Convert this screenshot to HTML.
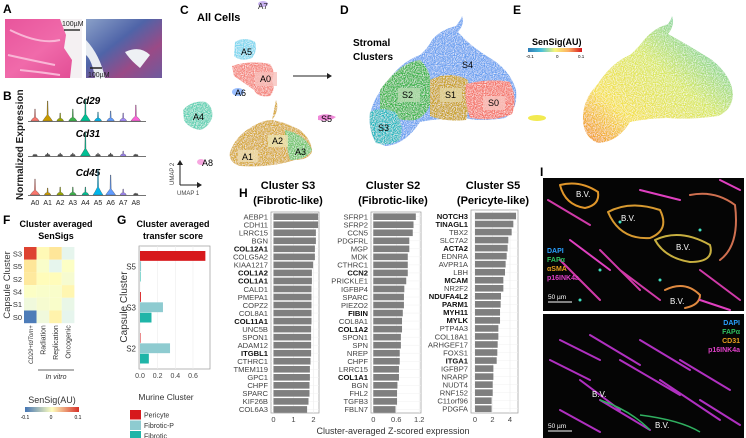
<!DOCTYPE html>
<html><head><meta charset="utf-8"><style>
html,body{margin:0;padding:0;background:#fff;}
svg{display:block;font-family:"Liberation Sans",Arial,sans-serif;}
</style></head><body>
<svg id="fig" width="746" height="438" viewBox="0 0 746 438" xmlns="http://www.w3.org/2000/svg">
<defs>
<linearGradient id="he" x1="0" y1="0" x2="1" y2="1"><stop offset="0" stop-color="#e8559c"/><stop offset="0.5" stop-color="#f06aaa"/><stop offset="1" stop-color="#e04a92"/></linearGradient>
<linearGradient id="tri" x1="0" y1="0" x2="1" y2="1"><stop offset="0" stop-color="#8aa0c8"/><stop offset="0.4" stop-color="#4f64a8"/><stop offset="0.7" stop-color="#9a4a86"/><stop offset="1" stop-color="#6d5b9e"/></linearGradient>
<linearGradient id="ss" x1="0" x2="1"><stop offset="0" stop-color="#2c7bb6"/><stop offset="0.25" stop-color="#4cc1d8"/><stop offset="0.5" stop-color="#f6f67a"/><stop offset="0.75" stop-color="#fdae61"/><stop offset="1" stop-color="#d7191c"/></linearGradient>
<linearGradient id="ssF" x1="0" x2="1"><stop offset="0" stop-color="#4575b4"/><stop offset="0.5" stop-color="#ffffbf"/><stop offset="1" stop-color="#d73027"/></linearGradient>
<linearGradient id="eblob" x1="0" y1="1" x2="1" y2="0"><stop offset="0" stop-color="#f08c1c"/><stop offset="0.25" stop-color="#f5e04a"/><stop offset="0.55" stop-color="#d8e860"/><stop offset="0.8" stop-color="#7fd39a"/><stop offset="1" stop-color="#5ec0b0"/></linearGradient>
<filter id="speck"><feTurbulence type="fractalNoise" baseFrequency="0.9" numOctaves="1" result="n"/><feColorMatrix in="n" type="matrix" values="0 0 0 0 1 0 0 0 0 1 0 0 0 0 1 0 0 0 -2.2 1.3" result="w"/><feComposite in="w" in2="SourceGraphic" operator="in" result="wm"/><feMerge><feMergeNode in="SourceGraphic"/><feMergeNode in="wm"/></feMerge></filter>
</defs>

<!-- Panel A -->
<g>
<text x="3" y="13" font-size="12" font-weight="bold">A</text>
<rect x="5" y="19" width="77" height="59" fill="url(#he)"/>
<path d="M60 19 L82 19 L82 78 L70 78 L72 60 L64 48 L66 35 Z" fill="#f4f0f2"/>
<path d="M10 30 Q40 45 60 40 M8 55 Q30 60 55 65 M20 70 Q40 72 60 75" stroke="#f9b6d6" stroke-width="2" fill="none"/>
<line x1="64" y1="30" x2="80" y2="30" stroke="#333" stroke-width="1.5"/>
<text x="62" y="26" font-size="7" fill="#222">100µM</text>
<rect x="86" y="19" width="76" height="59" fill="url(#tri)"/>
<path d="M86 40 Q100 55 105 78 L95 78 Q92 60 86 55 Z" fill="#e8ecf2"/>
<path d="M125 52 Q140 45 150 55 L140 68 Q130 60 125 52 Z" fill="#eef0f4"/>
<line x1="90" y1="68" x2="102" y2="68" stroke="#222" stroke-width="1.5"/>
<text x="88" y="77" font-size="7" fill="#222">100µM</text>
</g>

<!-- Panel B -->
<g>
<text x="3" y="100" font-size="12" font-weight="bold">B</text>
<text transform="translate(23,200) rotate(-90)" font-size="10" font-weight="bold" fill="#222">Normalized Expression</text>
<g id="violins"></g>
</g>

<!-- Panel C -->
<g>
<text x="180" y="14" font-size="12" font-weight="bold">C</text>
<text x="197" y="21" font-size="11" font-weight="bold">All Cells</text>
<ellipse cx="263" cy="4" rx="5" ry="3" fill="#c9b3f0"/>
<text x="258" y="9" font-size="8" fill="#222">A7</text>
<path d="M235 42 Q245 36 255 42 Q258 50 252 58 Q240 62 234 56 Z" fill="#7fd7ef" filter="url(#speck)"/>
<text x="241" y="55" font-size="9">A5</text>
<path d="M232 66 Q250 60 270 64 Q276 72 272 80 Q276 90 270 96 Q258 98 254 90 Q240 80 234 76 Z" fill="#f4847c" filter="url(#speck)"/>
<rect x="255" y="72" width="22" height="14" fill="#f8c0bb" opacity="0.8"/>
<text x="260" y="82" font-size="9">A0</text>
<ellipse cx="238" cy="92" rx="6" ry="4" fill="#9cc0ff"/>
<text x="235" y="96" font-size="9">A6</text>
<path d="M183 110 Q192 100 206 102 Q214 108 212 118 Q208 128 200 130 Q188 128 184 120 Z" fill="#5fd1b4" filter="url(#speck)"/>
<text x="193" y="120" font-size="9">A4</text>
<ellipse cx="201" cy="162" rx="4" ry="3" fill="#f7a7e0"/>
<text x="202" y="166" font-size="9">A8</text>
<path d="M276 100 Q280 110 272 120 Q285 122 300 130 Q312 140 312 152 Q308 160 295 160 Q270 168 240 166 Q228 162 230 152 Q236 136 250 128 Q262 120 272 120" fill="#d6a838" filter="url(#speck)"/>
<path d="M285 130 Q305 134 312 150 Q306 160 290 160 Q286 145 285 130 Z" fill="#6fc46a" filter="url(#speck)"/>
<rect x="268" y="135" width="20" height="12" fill="#ece4b0" opacity="0.8"/>
<text x="272" y="144" font-size="9">A2</text>
<text x="295" y="155" font-size="9">A3</text>
<rect x="238" y="150" width="20" height="12" fill="#eedcb0" opacity="0.8"/>
<text x="242" y="160" font-size="9">A1</text>
<path d="M318 116 Q326 112 336 117 Q330 122 318 120 Z" fill="#f08ad9"/>
<text x="321" y="122" font-size="9">S5</text>
<line x1="293" y1="76" x2="327" y2="76" stroke="#222" stroke-width="1"/>
<path d="M327 73 L332 76 L327 79 Z" fill="#222"/>
<line x1="180" y1="185" x2="180" y2="164" stroke="#222"/><path d="M177 165 L180 160 L183 165 Z" fill="#222"/>
<line x1="180" y1="185" x2="198" y2="185" stroke="#222"/><path d="M197 182 L202 185 L197 188 Z" fill="#222"/>
<text transform="translate(174,185) rotate(-90)" font-size="6" fill="#444">UMAP 2</text>
<text x="177" y="195" font-size="6" fill="#444">UMAP 1</text>
</g>

<!-- Panel D -->
<g>
<text x="340" y="14" font-size="12" font-weight="bold">D</text>
<text x="353" y="46" font-size="10" font-weight="bold">Stromal</text>
<text x="353" y="60" font-size="10" font-weight="bold">Clusters</text>
<path d="M432 40 Q440 30 456 26 Q462 18 462 16 Q465 24 458 32 Q470 46 490 58 Q510 70 516 90 Q518 110 505 118 Q480 122 465 118 Q440 118 420 122 Q405 145 385 146 Q372 140 370 125 Q368 105 385 85 Q400 62 420 55 Q428 48 432 40 Z" fill="#6aa0f0" filter="url(#speck)"/>
<path d="M380 90 Q400 62 420 60 Q432 70 432 95 Q430 115 415 120 Q395 122 380 110 Z" fill="#3cb44b" filter="url(#speck)"/>
<path d="M430 80 Q450 70 468 80 Q472 100 466 120 Q445 122 430 116 Z" fill="#c8a020" filter="url(#speck)"/>
<path d="M466 84 Q490 78 510 82 Q518 100 512 114 Q495 122 470 118 Q464 100 466 84 Z" fill="#f4756b" filter="url(#speck)"/>
<path d="M370 112 Q380 106 395 112 Q405 125 400 140 Q388 147 376 143 Q368 130 370 112 Z" fill="#22b8c0" filter="url(#speck)"/>
<rect x="398" y="88" width="22" height="14" fill="#b8dcb0" opacity="0.8"/><text x="402" y="98" font-size="9">S2</text>
<rect x="440" y="88" width="22" height="14" fill="#e2d4a0" opacity="0.8"/><text x="445" y="98" font-size="9">S1</text>
<rect x="483" y="96" width="22" height="14" fill="#f9c4be" opacity="0.8"/><text x="488" y="106" font-size="9">S0</text>
<text x="462" y="68" font-size="9">S4</text>
<text x="378" y="131" font-size="9">S3</text>
</g>

<!-- Panel E -->
<g>
<text x="513" y="14" font-size="12" font-weight="bold">E</text>
<text x="532" y="45" font-size="9" font-weight="bold">SenSig(AU)</text>
<rect x="528" y="48" width="54" height="4" fill="url(#ss)"/>
<text x="526" y="58" font-size="4.5">-0.1</text><text x="556" y="58" font-size="4.5">0</text><text x="578" y="58" font-size="4.5">0.1</text>
<ellipse cx="537" cy="118" rx="9" ry="3" fill="#f2ea50"/>
<path d="M644 40 Q654 28 668 24 Q672 18 672 16 Q675 26 668 34 Q690 46 712 60 Q732 76 733 95 Q732 110 718 116 Q690 120 668 118 Q650 118 630 122 Q618 142 598 143 Q585 138 583 122 Q582 100 597 85 Q612 62 630 55 Q638 48 644 40 Z" fill="url(#eblob)" filter="url(#speck)"/>
</g>

<!-- Panel F -->
<g>
<text x="3" y="224" font-size="12" font-weight="bold">F</text>
<text x="56" y="227" font-size="9" font-weight="bold" text-anchor="middle">Cluster averaged</text>
<text x="56" y="239" font-size="9" font-weight="bold" text-anchor="middle">SenSigs</text>
<text transform="translate(10,285) rotate(-90)" font-size="9.5" text-anchor="middle" fill="#333">Capsule Cluster</text>
<g id="heat"></g>
<line x1="38" y1="370" x2="74" y2="370" stroke="#333" stroke-width="0.7"/>
<text x="56" y="379" font-size="7" font-style="italic" text-anchor="middle" fill="#333">In vitro</text>
<text x="52" y="403" font-size="9" text-anchor="middle" fill="#333">SenSig(AU)</text>
<rect x="25" y="407" width="54" height="5" fill="url(#ssF)"/>
<text x="25" y="419" font-size="5" text-anchor="middle">-0.1</text><text x="51" y="419" font-size="5" text-anchor="middle">0</text><text x="78" y="419" font-size="5" text-anchor="middle">0.1</text>
</g>

<!-- Panel G -->
<g>
<text x="117" y="224" font-size="12" font-weight="bold">G</text>
<text x="173" y="227" font-size="9" font-weight="bold" text-anchor="middle">Cluster averaged</text>
<text x="173" y="239" font-size="9" font-weight="bold" text-anchor="middle">transfer score</text>
<text transform="translate(127,307) rotate(-90)" font-size="10" text-anchor="middle" fill="#333">Capsule Cluster</text>
<g id="gchart"></g>
<text x="166" y="400" font-size="8.5" text-anchor="middle" fill="#333">Murine Cluster</text>
<g id="glegend"></g>
</g>

<!-- Panel H -->
<g>
<text x="239" y="197" font-size="12" font-weight="bold">H</text>
<g id="hchart"></g>
<text x="393" y="434" font-size="9" text-anchor="middle" fill="#333">Cluster-averaged Z-scored expression</text>
</g>

<!-- Panel I -->
<g>
<text x="540" y="176" font-size="12" font-weight="bold">I</text>
<rect x="543" y="178" width="201" height="133" fill="#050505"/>
<g fill="none" stroke-width="2" stroke-linecap="round">
<path d="M560 185 Q580 180 598 192 Q600 205 585 208 Q565 205 560 185" stroke="#e0962a"/>
<path d="M608 212 Q630 200 660 210 Q670 230 650 238 Q620 240 608 212" stroke="#d89a30"/>
<path d="M655 240 Q680 228 710 245 Q715 262 690 262 Q665 258 655 240" stroke="#c8b040"/>
<path d="M690 195 Q715 190 735 205 Q740 245 720 260" stroke="#d07050"/>
<path d="M665 290 Q685 280 700 295 Q700 305 685 308" stroke="#e08a40"/>
<path d="M548 200 L590 225 M560 260 L600 300 M600 250 L640 290 M620 270 L660 300 M700 270 L740 300" stroke="#d03aa8"/>
<path d="M570 240 L610 270 M640 190 L680 200 M720 180 L740 190 M700 300 L730 310" stroke="#e040c0"/>
</g>
<g fill="#40e0c0"><circle cx="620" cy="222" r="1.5"/><circle cx="660" cy="280" r="1.5"/><circle cx="600" cy="270" r="1.5"/><circle cx="700" cy="230" r="1.5"/><circle cx="580" cy="300" r="1.5"/></g>
<text x="576" y="197" font-size="8" fill="#fff">B.V.</text><text x="621" y="221" font-size="8" fill="#fff">B.V.</text><text x="676" y="250" font-size="8" fill="#fff">B.V.</text><text x="670" y="304" font-size="8" fill="#fff">B.V.</text>
<text x="547" y="253" font-size="7" fill="#2aa0ff" font-weight="bold">DAPI</text>
<text x="547" y="262" font-size="7" fill="#2ec060" font-weight="bold">FAPα</text>
<text x="547" y="271" font-size="7" fill="#e8a020" font-weight="bold">αSMA</text>
<text x="547" y="280" font-size="7" fill="#e040c8" font-weight="bold">p16INK4a</text>
<line x1="548" y1="302" x2="572" y2="302" stroke="#fff"/><text x="548" y="299" font-size="6.5" fill="#fff">50 µm</text>
<rect x="543" y="314" width="201" height="124" fill="#050505"/>
<g fill="none" stroke-width="2" stroke-linecap="round" stroke="#b030c0">
<path d="M560 340 L600 360 M590 335 L640 365 M620 360 L680 395 M660 380 L720 420 M580 380 L620 410 M680 360 L730 390 M700 400 L740 425 M600 400 L650 430 M550 360 L590 380 M640 340 L690 370 M560 410 L600 432"/>
</g>
<path d="M600 400 Q630 410 650 430 M640 415 Q680 420 700 432" fill="none" stroke="#30b060" stroke-width="1.5"/>
<text x="592" y="397" font-size="8" fill="#fff">B.V.</text><text x="655" y="428" font-size="8" fill="#fff">B.V.</text>
<text x="740" y="325" font-size="7" fill="#2aa0ff" font-weight="bold" text-anchor="end">DAPI</text>
<text x="740" y="334" font-size="7" fill="#2ec060" font-weight="bold" text-anchor="end">FAPα</text>
<text x="740" y="343" font-size="7" fill="#e8a020" font-weight="bold" text-anchor="end">CD31</text>
<text x="740" y="352" font-size="7" fill="#e040c8" font-weight="bold" text-anchor="end">p16INK4a</text>
<line x1="548" y1="431" x2="572" y2="431" stroke="#fff"/><text x="548" y="428" font-size="6.5" fill="#fff">50 µm</text>
</g>
</svg>
<script>
const NS="http://www.w3.org/2000/svg";
function mk(tag,attrs,parent){const e=document.createElementNS(NS,tag);for(const k in attrs)e.setAttribute(k,attrs[k]);parent.appendChild(e);return e;}

// Panel B data
const bClusters=["A0","A1","A2","A3","A4","A5","A6","A7","A8"];
const bColors=["#f8766d","#c99a00","#99a800","#3cb44b","#00c094","#00b6eb","#619cff","#a58aff","#fb61d7"];
const bGenes=["Cd29","Cd31","Cd45"];
const cd29=[12,20,8,12,22,9,10,8,16];
const cd31=[2,3,3,3,24,3,3,5,2];
const cd45=[16,7,8,8,8,26,20,6,2];
const bRows=[cd29,cd31,cd45];

// Panel F data
const fRows=["S3","S5","S2","S4","S1","S0"];
const fCols=["CD29+tdTom+","Radiation","Replication","Oncogenic"];
const fS3=[0.09,0.01,0.04,-0.04];
const fS5=[0.04,-0.01,-0.04,-0.005];
const fS2=[0.035,0.005,0.005,-0.015];
const fS4=[-0.005,-0.01,-0.01,0.015];
const fS1=[-0.025,-0.015,-0.01,-0.035];
const fS0=[-0.095,-0.025,0.02,-0.04];
const fVals=[fS3,fS5,fS2,fS4,fS1,fS0];

// Panel G data
const gCats=["S5","S3","S2"];
const gSeries=["Pericyte","Fibrotic-P","Fibrotic"];
const gPericyte=[0.74,0.01,0.005];
const gFibroticP=[0.012,0.26,0.34];
const gFibrotic=[0.006,0.13,0.10];
const gTicks=[0.0,0.2,0.4,0.6];

// Panel H data
const hS3Genes=["AEBP1","CDH11","LRRC15","BGN","COL12A1","COLG5A2","KIAA1217","COL1A2","COL1A1","CALD1","PMEPA1","COPZ2","COL8A1","COL11A1","UNC5B","SPON1","ADAM12","ITGBL1","CTHRC1","TMEM119","GPC1","CHPF","SPARC","KIF26B","COL6A3"];
const hS3Vals=[2.23,2.23,2.12,2.12,2.07,2.07,1.98,1.92,1.92,1.9,1.9,1.9,1.9,1.9,1.88,1.88,1.88,1.88,1.85,1.82,1.82,1.8,1.8,1.75,1.68];
const hS3Bold=["COL12A1","COL1A2","COL1A1","COL11A1","ITGBL1"];
const hS3Ticks=[0,1,2];
const hS2Genes=["SFRP1","SFRP2","CCN5","PDGFRL","MGP","MDK","CTHRC1","CCN2","PRICKLE1","IGFBP4","SPARC","PIEZO2","FIBIN","COL8A1","COL1A2","SPON1","SPN","NREP","CHPF","LRRC15","COL1A1","BGN","FHL2","TGFB3","FBLN7"];
const hS2Vals=[1.11,1.05,1.03,0.94,0.94,0.9,0.9,0.9,0.86,0.81,0.8,0.8,0.77,0.75,0.75,0.72,0.72,0.69,0.69,0.67,0.67,0.63,0.62,0.62,0.58];
const hS2Bold=["CCN2","FIBIN","COL1A2","COL1A1"];
const hS2Ticks=[0,0.6,1.2];
const hS5Genes=["NOTCH3","TINAGL1","TBX2","SLC7A2","ACTA2","EDNRA","AVPR1A","LBH","MCAM","NR2F2","NDUFA4L2","PARM1","MYH11","MYLK","PTP4A3","COL18A1","ARHGEF17","FOXS1","ITGA1","IGFBP7","NRARP","NUDT4","RNF152","C11orf96","PDGFA"];
const hS5Vals=[4.69,4.38,4.19,3.81,3.73,3.62,3.5,3.43,3.24,3.24,2.97,2.93,2.86,2.86,2.67,2.67,2.59,2.55,2.48,2.1,2.1,2.02,2.02,1.9,1.9];
const hS5Bold=["NOTCH3","TINAGL1","ACTA2","MCAM","NDUFA4L2","PARM1","MYH11","MYLK","ITGA1"];
const hS5Ticks=[0,2,4];

// ---- B violins
(function(){
  const g=document.getElementById('violins');
  const bases=[121,156,195];
  const titleY=[104,137,176];
  const x=i=>35+i*12.6;
  bRows.forEach((row,r)=>{
    const t=mk('text',{x:88,y:titleY[r],'font-size':10,'font-weight':'bold','font-style':'italic','text-anchor':'middle'},g);
    t.textContent=bGenes[r];
    
    
    mk('line',{x1:28,x2:146,y1:bases[r]+0.5,y2:bases[r]+0.5,stroke:'#444','stroke-width':0.8},g);
    row.forEach((h,i)=>{
      const cx=x(i), b=bases[r], w=Math.min(5,2+h*0.18);
      const d=`M${cx-w} ${b} Q${cx-w*0.6} ${b-3} ${cx-0.6} ${b-h*0.3} L${cx-0.3} ${b-h} L${cx+0.3} ${b-h} L${cx+0.6} ${b-h*0.3} Q${cx+w*0.6} ${b-3} ${cx+w} ${b} Z`;
      const p=mk('path',{d:d,fill:h>4?bColors[i]:'#555',stroke:'#333','stroke-width':0.3},g);
      
      
    });
  });
  bClusters.forEach((c,i)=>{
    const t=mk('text',{x:x(i),y:205,'font-size':7,'text-anchor':'middle',fill:'#222'},g);
    t.textContent=c;
    
    
  });
})();

// ---- F heatmap
(function(){
  const g=document.getElementById('heat');
  const x0=24,y0=247,cw=12.6,ch=12.7;
  function col(v){
    const t=Math.max(-1,Math.min(1,v/0.1));
    const lerp=(a,b,u)=>a.map((c,k)=>Math.round(c+(b[k]-c)*u));
    const blue=[69,117,180],mid=[255,255,191],red=[215,48,39];
    let c;
    if(t<0){c=t<-0.5?lerp([145,191,219],blue,(-t-0.5)*2):lerp(mid,[224,243,248],-t*2);} 
    else{c=t>0.5?lerp([252,141,89],red,(t-0.5)*2):lerp(mid,[254,224,144],t*2);} 
    return `rgb(${c[0]},${c[1]},${c[2]})`;
  }
  fVals.forEach((row,r)=>{
    const t=mk('text',{x:x0-2,y:y0+r*ch+ch/2+3,'font-size':7.5,'text-anchor':'end',fill:'#333'},g);
    t.textContent=fRows[r];
    
    
    row.forEach((v,c)=>{
      const rc=mk('rect',{x:x0+c*cw,y:y0+r*ch,width:cw,height:ch,fill:col(v)},g);
      
      
    });
  });
  fCols.forEach((c,i)=>{
    const cx=x0+i*cw+cw/2+2.5;
    const t=mk('text',{transform:`translate(${cx},${y0+6*ch+2}) rotate(-90)`,'font-size':i===0?6:7,'text-anchor':'end',fill:'#333','font-style':i===0?'italic':'normal'},g);
    t.textContent=c;
    
    
  });
})();

// ---- G bars
(function(){
  const g=document.getElementById('gchart');
  const L=139,R=210,T=246,B=369;
  const xs=v=>L+1+v*(53/0.6);
  const colors=["#d7191c","#8ecbd0","#1fb5a8"];
  const series=[gPericyte,gFibroticP,gFibrotic];
  mk('rect',{x:L,y:T,width:R-L,height:B-T,fill:'#fff',stroke:'#999','stroke-width':0.7},g);
  gTicks.forEach(v=>{
    mk('line',{x1:xs(v),x2:xs(v),y1:T,y2:B,stroke:'#ececec','stroke-width':0.6},g);
    const t=mk('text',{x:xs(v),y:B+9,'font-size':7,'text-anchor':'middle',fill:'#444'},g);
    t.textContent=v.toFixed(1);
    
    
  });
  const band=(B-T)/gCats.length;
  gCats.forEach((c,i)=>{
    const top=T+i*band+5, bh=(band-10)/3;
    const t=mk('text',{x:L-3,y:T+i*band+band/2+3,'font-size':8,'text-anchor':'end',fill:'#333'},g);
    t.textContent=c;
    
    
    series.forEach((s,k)=>{
      const r=mk('rect',{x:xs(0),y:top+k*bh,width:Math.max(0.5,xs(s[i])-xs(0)),height:bh-0.5,fill:colors[k]},g);
      
      
    });
  });
  const lg=document.getElementById('glegend');
  gSeries.forEach((s,k)=>{
    const y=410+k*10.5;
    const r=mk('rect',{x:130,y:y,width:11,height:9.5,fill:colors[k]},lg);
    
    
    const t=mk('text',{x:144,y:y+7.5,'font-size':7,fill:'#333'},lg);
    t.textContent=s;
    
    
  });
})();

// ---- H bar panels
(function(){
  const g=document.getElementById('hchart');
  const panels=[
    {title:"Cluster S3",sub:"(Fibrotic-like)",cx:288,genes:hS3Genes,vals:hS3Vals,bold:hS3Bold,ticks:hS3Ticks,x0:273.5,ppu:20,L:271,R:319,T:212},
    {title:"Cluster S2",sub:"(Fibrotic-like)",cx:393,genes:hS2Genes,vals:hS2Vals,bold:hS2Bold,ticks:hS2Ticks,x0:373.3,ppu:38.3,L:371,R:421,T:212},
    {title:"Cluster S5",sub:"(Pericyte-like)",cx:493,genes:hS5Genes,vals:hS5Vals,bold:hS5Bold,ticks:hS5Ticks,x0:475,ppu:8.75,L:471,R:518,T:210}
  ];
  const B=413, rowY=i=>216.7+i*8.03;
  panels.forEach((p,pi)=>{
    const t1=mk('text',{x:p.cx,y:189,'font-size':11,'font-weight':'bold','text-anchor':'middle'},g);
    t1.textContent=p.title;
    
    
    const t2=mk('text',{x:p.cx,y:204,'font-size':11,'font-weight':'bold','text-anchor':'middle'},g);
    t2.textContent=p.sub;
    
    
    mk('rect',{x:p.L,y:p.T,width:p.R-p.L,height:B-p.T,fill:'#fff',stroke:'#999','stroke-width':0.7},g);
    p.ticks.forEach(v=>{
      const x=p.x0+v*p.ppu;
      mk('line',{x1:x,x2:x,y1:p.T,y2:B,stroke:'#ebebeb','stroke-width':0.6},g);
      const t=mk('text',{x:x,y:B+9,'font-size':7.5,'text-anchor':'middle',fill:'#444'},g);
      t.textContent=String(v);
      
      
    });
    p.genes.forEach((gn,i)=>{
      const y=rowY(i)+(pi===2?-0.7:0);
      mk('line',{x1:p.L,x2:p.R,y1:y,y2:y,stroke:'#f0f0f0','stroke-width':0.5},g);
      const r=mk('rect',{x:p.x0,y:y-3.3,width:p.vals[i]*p.ppu,height:6.6,fill:'#7f7f7f'},g);
      
      
      const isB=p.bold.indexOf(gn)>=0;
      const t=mk('text',{x:p.L-3,y:y+2.8,'font-size':7.6,'text-anchor':'end',fill:isB?'#111':'#444','font-weight':isB?'bold':'normal'},g);
      t.textContent=gn;
      
      
    });
  });
})();
</script>
</body></html>
